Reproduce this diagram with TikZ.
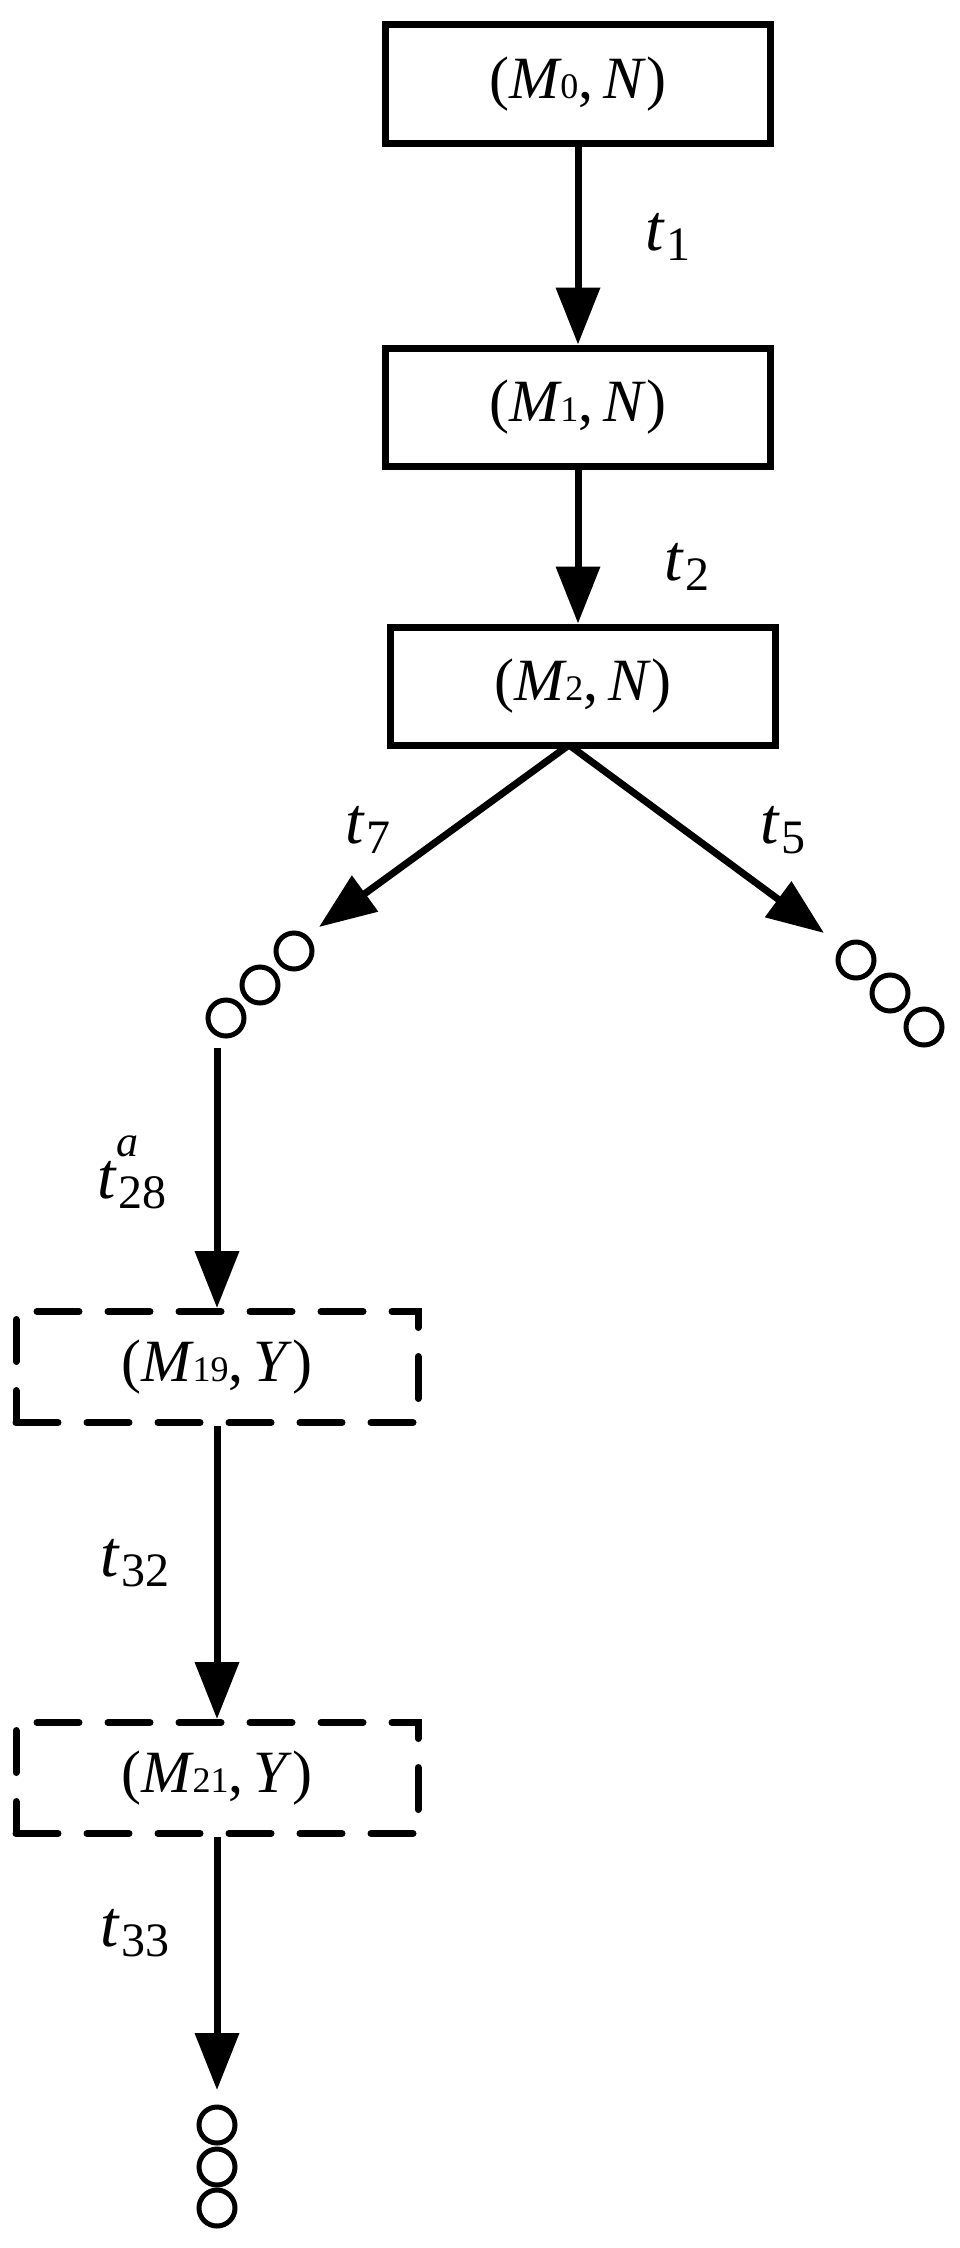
\documentclass[tikz,border=0pt]{standalone}
\usepackage{fontspec}
\setmainfont{Liberation Serif}
\usetikzlibrary{arrows.meta}
\newcommand{\bx}[2]{{\fontsize{60}{64}\selectfont(\textit{M}\kern-2pt{\fontsize{36}{38}\selectfont #1},\,\textit{#2})}}
\newcommand{\tl}[1]{{\fontsize{66}{70}\selectfont\textit{t}\kern2pt\raisebox{-10pt}{\fontsize{48}{50}\selectfont #1}}}
\begin{document}
\begin{tikzpicture}[x=1pt,y=-1pt,line width=7pt,
  sb/.style={draw,line width=7pt,minimum width=385pt,minimum height=118pt,inner sep=0pt},
  db/.style={draw,line width=7pt,line cap=round,dash pattern=on 42pt off 29pt,minimum width=402pt,minimum height=111pt,inner sep=0pt},
  ar/.style={-{Triangle[length=57pt,width=43pt]},line width=7pt},
  dot/.style={circle,draw,line width=5pt,minimum size=36pt,inner sep=0pt}]
\useasboundingbox (0,0) rectangle (960,2248);
\node[sb] (b0) at (578,84) {\bx{0}{N}};
\node[sb] (b1) at (578,407) {\bx{1}{N}};
\node[sb] (b2) at (583,686) {\bx{2}{N}};
\node[db] (d1) at (217,1367) {\bx{19}{Y}};
\node[db] (d2) at (217,1778) {\bx{21}{Y}};
\node[dot] (l1) at (294,951) {};
\node[dot] (l2) at (260,985) {};
\node[dot] (l3) at (226,1018) {};
\node[dot] (r1) at (856,960) {};
\node[dot] (r2) at (890,993) {};
\node[dot] (r3) at (924,1027) {};
\node[dot] (e1) at (217,2125) {};
\node[dot] (e2) at (217,2167) {};
\node[dot] (e3) at (217,2208) {};
\coordinate (a2) at (569,745);
\coordinate (tl7) at (319,927);
\coordinate (tr5) at (824,933);
\coordinate (s1) at (217,1048);
\coordinate (s2) at (217,2090);
\draw[ar] (b0.south) -- (b1.north);
\draw[ar] (b1.south) -- (b1.south |- b2.north);
\draw[ar] (a2) -- (tl7);
\draw[ar] (a2) -- (tr5);
\draw[ar] (s1) -- (d1.north);
\draw[ar] (d1.south) -- (d2.north);
\draw[ar] (d2.south) -- (s2);
\node (t1) at (668,237) {\tl{1}};
\node (t2) at (687,567) {\tl{2}};
\node (t7) at (368,830) {\tl{7}};
\node (t5) at (783,830) {\tl{5}};
\node (t28) at (131,1172) {{\fontsize{66}{70}\selectfont\textit{t}\kern2pt\raisebox{-10pt}{\fontsize{48}{50}\selectfont 28}\kern-50pt\raisebox{42pt}{\fontsize{44}{46}\selectfont\textit{a}}\kern26pt}};
\node (t32) at (135,1563) {\tl{32}};
\node (t33) at (135,1933) {\tl{33}};
\end{tikzpicture}
\end{document}
